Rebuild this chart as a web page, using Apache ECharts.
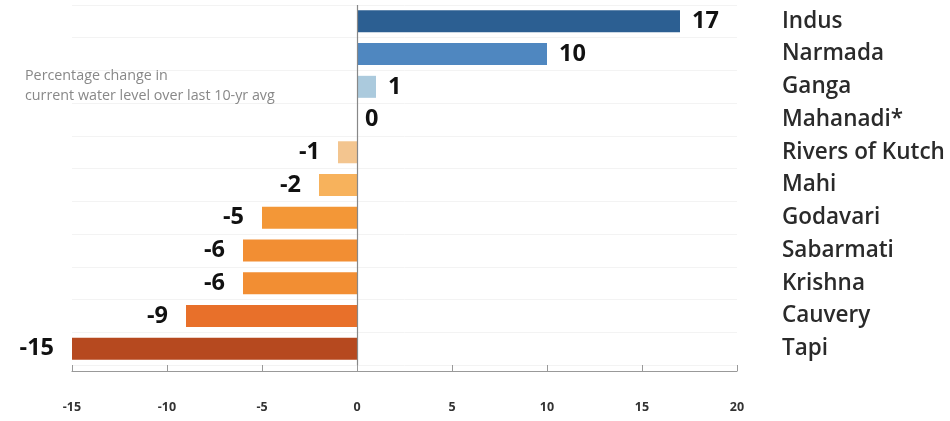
<!DOCTYPE html>
<html><head><meta charset="utf-8">
<script src="https://cdn.jsdelivr.net/npm/echarts@6/dist/echarts.min.js"></script>
<style>html,body{margin:0;padding:0;background:#fff}#c{width:950px;height:421px}</style>
</head><body><div id="c"></div>
<script>
const categories = ["Indus","Narmada","Ganga","Mahanadi*","Rivers of Kutch","Mahi","Godavari","Sabarmati","Krishna","Cauvery","Tapi"];
const values = [17,10,1,0,-1,-2,-5,-6,-6,-9,-15];
const barColors = ["#2c5f92","#4f87c0","#abcadd","#abcadd","#f3c58f","#f7b25c","#f39737","#f28e33","#f28e33","#e8702a","#b6491f"];
const xTicks = [-15,-10,-5,0,5,10,15,20];
const note = "Percentage change in\ncurrent water level over last 10-yr avg";

const chart = echarts.init(document.getElementById('c'));
chart.setOption({
  animation:false,
  title:{text:note,left:20,top:61,textStyle:{fontSize:14.3,fontWeight:'normal',color:'#888',lineHeight:20,fontFamily:'Open Sans'}},
  grid:{left:72,right:213,top:5,height:360},
  xAxis:{type:'value',min:xTicks[0],max:xTicks[xTicks.length-1],interval:5,offset:6,
    axisLine:{show:true,lineStyle:{color:'#999',width:1.2}},
    axisTick:{show:true,inside:true,length:6,lineStyle:{color:'#999'}},
    axisLabel:{margin:30,color:'#333',fontSize:12.5,fontWeight:'bold',fontFamily:'Open Sans'},
    splitLine:{show:false}},
  yAxis:{type:'category',data:categories,inverse:true,position:'right',
    axisLine:{show:false},axisTick:{show:false},
    splitLine:{show:true,lineStyle:{color:'#f3f3f3'}},
    axisLabel:{margin:45,align:'left',color:'#2a2a2a',fontSize:22.5,fontWeight:600,fontFamily:'Open Sans'}},
  series:[{type:'bar',barWidth:22,
    data:values.map((v,i)=>({value:v,itemStyle:{color:barColors[i]},
      label:{show:true,position:v<0?'left':'right',distance:v===0?8:(v<0?18:12)}})),
    label:{color:'#111',fontSize:23.5,fontWeight:'bold',fontFamily:'Open Sans'},
    markLine:{silent:true,symbol:'none',label:{show:false},lineStyle:{color:'#888',type:'solid',width:1.2},data:[{xAxis:0}]}
  }]
});
</script></body></html>
